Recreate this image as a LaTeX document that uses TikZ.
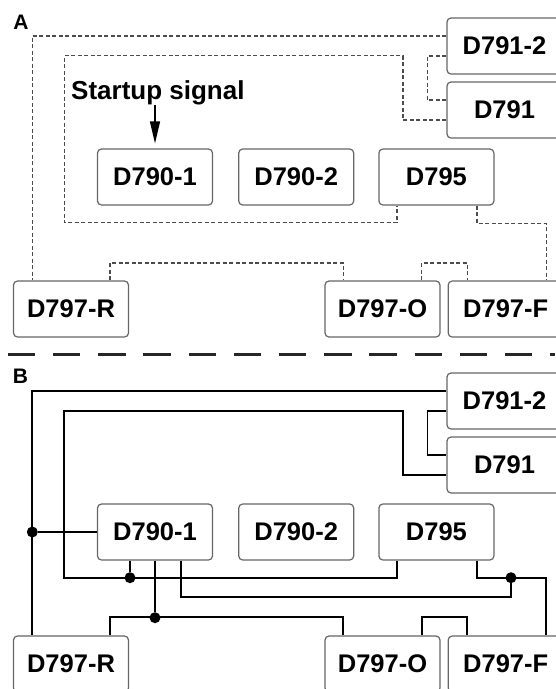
\documentclass[tikz,border=0pt]{standalone}
\usepackage{fontspec}
\setmainfont{Liberation Sans}
\usetikzlibrary{positioning, arrows.meta}

\begin{document}
\begin{tikzpicture}[x=1pt, y=-1pt,
    box/.style={draw=black!60, line width=1.2pt, rounded corners=4pt, fill=white,
        minimum width=115pt, minimum height=56pt, inner sep=0pt,
        font=\fontsize{25.5}{30}\selectfont\bfseries},
    sig/.style={draw=black!70, line width=1.4pt, dash pattern=on 4pt off 2.5pt},
    wire/.style={draw=black, line width=1.8pt},
    dot/.style={circle, fill=black, inner sep=0pt, minimum size=11pt},
    panel/.style={font=\fontsize{21}{24}\selectfont\bfseries}]
    \useasboundingbox (0,0) rectangle (555,689);

    % A: dotted
    \node[panel] (labA) at (21,22) {A};
    \node[box] (a7912) at (504.5,46) {D791-2};
    \node[box] (a791) at (504.5,110) {D791};
    \node[box] (a7901) at (155,177) {D790-1};
    \node[box] (a7902) [right=25pt of a7901] {D790-2};
    \node[box] (a795) [right=24pt of a7902] {D795};
    \node[box] (a797R) at (71,309) {D797-R};
    \node[box] (a797O) at (382.5,309) {D797-O};
    \node[box] (a797F) [right=7pt of a797O] {D797-F};
    \node[anchor=base west, inner sep=0pt, font=\fontsize{26}{30}\selectfont\bfseries]
        (start) at (71,99) {Startup signal};

    \draw[-{Triangle[length=22pt, width=10pt]}, line width=1.2pt]
        (a7901.north |- start.south) -- ([yshift=5pt]a7901.north);
    \draw[sig] ([yshift=10pt]a7912.west) -| ([xshift=-38.7pt]a797R.north);
    \draw[sig] ([yshift=-10pt]a7912.west) -- ++(-19,0) |- ([yshift=10pt]a791.west);
    \draw[sig] ([yshift=-10pt]a791.west) -- ++(-43.5,0) |- (64.3,55.7)
        -- ++(0,167) -| ([xshift=-39.5pt]a795.south);
    \draw[sig] ([xshift=40.5pt]a795.south) -- ++(0,17.7) -| ([xshift=40.5pt]a797F.north);
    \draw[sig] ([xshift=39pt]a797R.north) -- ++(0,-17.5) -| ([xshift=-39.2pt]a797O.north);
    \draw[sig] ([xshift=39.2pt]a797O.north) -- ++(0,-17.5) -| ([xshift=-38.5pt]a797F.north);

    \draw[black!85, line width=2.5pt, dash pattern=on 27.3pt off 17.9pt] (7.8,354.3) -- (555,354.3);

    % B: solid
    \node[panel] (labB) at (20.5,376) {B};
    \node[box] (b7912) at (504.5,401) {D791-2};
    \node[box] (b791) at (504.5,465) {D791};
    \node[box] (b7901) at (155,532) {D790-1};
    \node[box] (b7902) [right=25pt of b7901] {D790-2};
    \node[box] (b795) [right=24pt of b7902] {D795};
    \node[box] (b797R) at (71,664) {D797-R};
    \node[box] (b797O) at (382.5,664) {D797-O};
    \node[box] (b797F) [right=7pt of b797O] {D797-F};

    \draw[wire] ([yshift=10pt]b7912.west) -| ([xshift=-38.7pt]b797R.north);
    \draw[wire] ([yshift=-10pt]b7912.west) -- ++(-19,0) |- ([yshift=10pt]b791.west);
    \draw[wire] ([yshift=-10pt]b791.west) -- ++(-43.5,0) |- (64.3,410.7)
        -- ++(0,167) -| ([xshift=-39.5pt]b795.south);
    \draw[wire] ([xshift=40.5pt]b795.south) -- ++(0,17.7) -| ([xshift=40.5pt]b797F.north);
    \draw[wire] ([xshift=39pt]b797R.north) -- ++(0,-18.3) -| ([xshift=-39.2pt]b797O.north);
    \draw[wire] ([xshift=39.2pt]b797O.north) -- ++(0,-18.3) -| ([xshift=-38.5pt]b797F.north);

    \node[dot] (jR) at ([xshift=-38.7pt]b797R.north |- b7901.west) {};
    \node[dot] (jL) at (130,577.7) {};
    \node[dot] (jM) at (155,617.7) {};
    \node[dot] (jF) at (511,577.7) {};
    \draw[wire] (jR) -- (b7901.west);
    \draw[wire] ([xshift=-25pt]b7901.south) -- (jL);
    \draw[wire] (b7901.south) -- (jM);
    \draw[wire] ([xshift=26pt]b7901.south) -- ++(0,36.7) -| (jF);
\end{tikzpicture}
\end{document}
